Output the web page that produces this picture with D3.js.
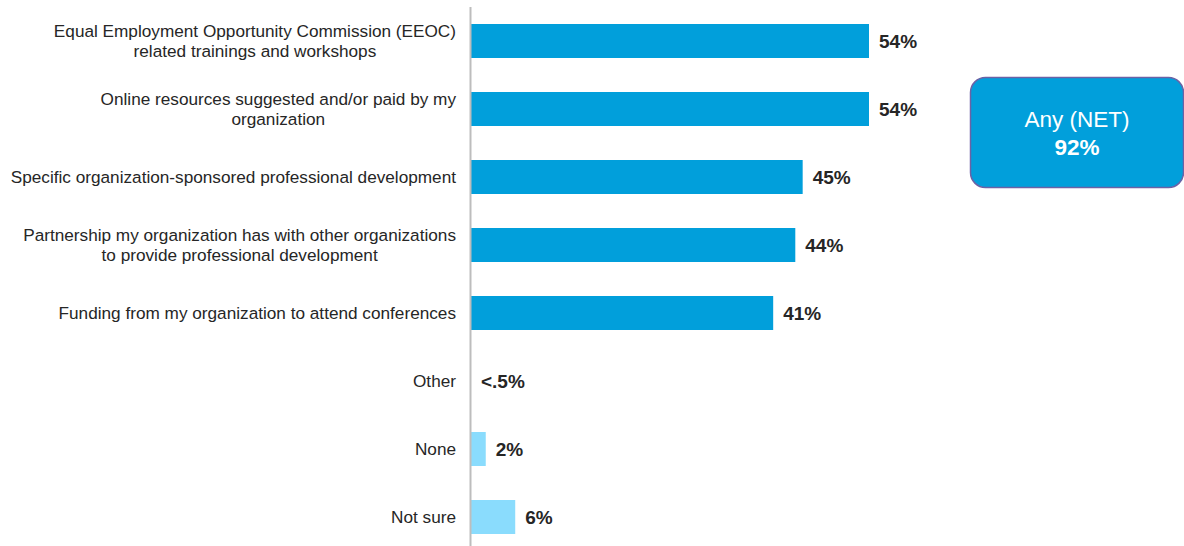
<!DOCTYPE html>
<html>
<head>
<meta charset="utf-8">
<script src="https://cdn.jsdelivr.net/npm/d3@7"></script>
<style>
  html, body { margin: 0; padding: 0; background: #fff; }
  svg { display: block; font-family: "Liberation Sans", Arial, sans-serif; }
</style>
</head>
<body>
<svg id="chart" width="1184" height="546"></svg>
<script>
// Categories (label lines) and their shares, in percent
const categories = [
  ["Equal Employment Opportunity Commission (EEOC)", "related trainings and workshops"],
  ["Online resources suggested and/or paid by my", "organization"],
  ["Specific organization-sponsored professional development"],
  ["Partnership my organization has with other organizations", "to provide professional development"],
  ["Funding from my organization to attend conferences"],
  ["Other"],
  ["None"],
  ["Not sure"]
];
const values = [54, 54, 45, 44, 41, 0, 2, 6];
const valueLabels = ["54%", "54%", "45%", "44%", "41%", "<.5%", "2%", "6%"];
const isNet = [true, true, true, true, true, false, false, false];
const netLabel = ["Any (NET)", "92%"];

const svg = d3.select("#chart");
const axisX = 471;

const x = d3.scaleLinear().domain([0, 54]).range([axisX, 869]);
const y = d3.scaleBand().domain(d3.range(values.length)).range([7, 551])
  .paddingInner(0.5).paddingOuter(0.25);

// Bars
svg.append("g").selectAll("rect")
  .data(values)
  .join("rect")
  .attr("x", x(0))
  .attr("y", (d, i) => y(i))
  .attr("width", d => x(d) - x(0))
  .attr("height", y.bandwidth())
  .attr("fill", (d, i) => isNet[i] ? "#019fdb" : "#8adcfd");

// Vertical baseline
svg.append("line")
  .attr("x1", axisX - 0.5).attr("x2", axisX - 0.5)
  .attr("y1", 7).attr("y2", 546)
  .attr("stroke", "#bdbdbd").attr("stroke-width", 2);

// Category labels: right-aligned block, lines centred within it
const labelRight = 456;
const lineH = 20;
categories.forEach((lines, i) => {
  const cy = y(i) + y.bandwidth() / 2;
  const g = svg.append("g");
  const texts = lines.map((ln, k) => g.append("text")
    .attr("y", cy + (k - (lines.length - 1) / 2) * lineH)
    .attr("dy", "0.35em")
    .attr("font-size", 17.2)
    .attr("fill", "#262626")
    .attr("text-anchor", "middle")
    .text(ln));
  const maxW = d3.max(texts, t => t.node().getComputedTextLength());
  texts.forEach(t => t.attr("x", labelRight - maxW / 2));
});

// Value labels
svg.append("g").selectAll("text")
  .data(values)
  .join("text")
  .attr("x", d => x(d) + 10)
  .attr("y", (d, i) => y(i) + y.bandwidth() / 2)
  .attr("dy", "0.35em")
  .attr("font-size", 19)
  .attr("font-weight", "bold")
  .attr("fill", "#262626")
  .text((d, i) => valueLabels[i]);

// NET callout box
const box = svg.append("g");
box.append("rect")
  .attr("x", 970.5).attr("y", 77.5)
  .attr("width", 213).attr("height", 110)
  .attr("rx", 15).attr("ry", 15)
  .attr("fill", "#019fdb")
  .attr("stroke", "#6b62a6").attr("stroke-width", 1.5);
box.append("text")
  .attr("x", 1077).attr("y", 119).attr("dy", "0.35em")
  .attr("text-anchor", "middle").attr("font-size", 22.5)
  .attr("fill", "#fff").text(netLabel[0]);
box.append("text")
  .attr("x", 1077).attr("y", 147).attr("dy", "0.35em")
  .attr("text-anchor", "middle").attr("font-size", 22.5).attr("font-weight", "bold")
  .attr("fill", "#fff").text(netLabel[1]);
</script>
</body>
</html>
